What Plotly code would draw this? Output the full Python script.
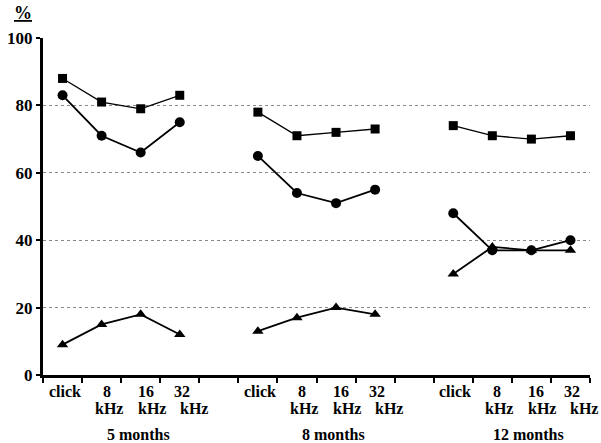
import plotly.graph_objects as go

groups = ["5 months", "8 months", "12 months"]
categories = ["click", "8 kHz", "16 kHz", "32 kHz"]
squares = [[88, 81, 79, 83], [78, 71, 72, 73], [74, 71, 70, 71]]
circles = [[83, 71, 66, 75], [65, 54, 51, 55], [48, 37, 37, 40]]
triangles = [[9, 15, 18, 12], [13, 17, 20, 18], [30, 38, 37, 37]]
y_ticks = [0, 20, 40, 60, 80, 100]

FONT = "Liberation Serif, Times New Roman, serif"
GAP = len(categories) + 1


def xy(series):
    xs, ys = [], []
    for g, vals in enumerate(series):
        for i, v in enumerate(vals):
            xs.append(g * GAP + i + 0.5)
            ys.append(v)
        xs.append(None)
        ys.append(None)
    return xs, ys


fig = go.Figure()
for series, sym, size, lw in [
    (squares, "square", 9, 1.3),
    (circles, "circle", 10, 1.8),
    (triangles, "triangle-up", 10, 1.8),
]:
    xs, ys = xy(series)
    fig.add_trace(go.Scatter(
        x=xs, y=ys, mode="lines+markers", connectgaps=False,
        line=dict(color="black", width=lw),
        marker=dict(symbol=sym, size=size, color="black"),
        showlegend=False, hoverinfo="skip",
    ))

bold = dict(family=FONT, size=16, color="black", weight="bold")

# category labels (two lines) and group labels
cat_shift_top = [2, 5, 5, 2]
cat_shift_bot = [0, 7, 11, 14]
annotations = []
for g, gname in enumerate(groups):
    for i, cat in enumerate(categories):
        parts = cat.split(" ")
        xpos = g * GAP + i + 0.5
        annotations.append(dict(
            x=xpos, y=0, xref="x", yref="y", text=parts[0], showarrow=False,
            xshift=cat_shift_top[i], yshift=-16, yanchor="middle", font=bold))
        if len(parts) > 1:
            annotations.append(dict(
                x=xpos, y=0, xref="x", yref="y", text=parts[1], showarrow=False,
                xshift=cat_shift_bot[i], yshift=-33, yanchor="middle", font=bold))
    annotations.append(dict(
        x=g * GAP + len(categories) / 2, y=0, xref="x", yref="y", text=gname,
        showarrow=False, xshift=17, yshift=-59, yanchor="middle", font=bold))

annotations.append(dict(
    x=-0.037, y=1.075, xref="paper", yref="paper", xanchor="center", yanchor="middle",
    text="<u>%</u>", showarrow=False,
    font=dict(family=FONT, size=18, color="black", weight="bold")))

n_ticks = len(groups) * GAP - 1
fig.update_layout(
    width=601, height=443,
    margin=dict(l=43, r=11, t=38, b=68),
    plot_bgcolor="white", paper_bgcolor="white",
    annotations=annotations,
    xaxis=dict(
        range=[0, n_ticks], tickvals=list(range(n_ticks + 1)),
        ticktext=[""] * (n_ticks + 1), ticks="outside", ticklen=5,
        tickwidth=2, tickcolor="black", showgrid=False, zeroline=False,
        showline=True, linecolor="black", linewidth=2.5, automargin=False,
    ),
    yaxis=dict(
        range=[0, 100], tickvals=y_ticks, ticktext=[str(v) for v in y_ticks],
        ticks="outside", ticklen=4, tickwidth=2, tickcolor="black",
        showgrid=True, gridcolor="#888888", griddash="dot", gridwidth=1,
        zeroline=False, showline=True, linecolor="black", linewidth=3,
        tickfont=dict(family=FONT, size=17, color="black", weight="bold"),
        automargin=False,
    ),
)

fig.write_html("out.html", config={"displayModeBar": False},
               post_script="document.body.style.margin='0';")
